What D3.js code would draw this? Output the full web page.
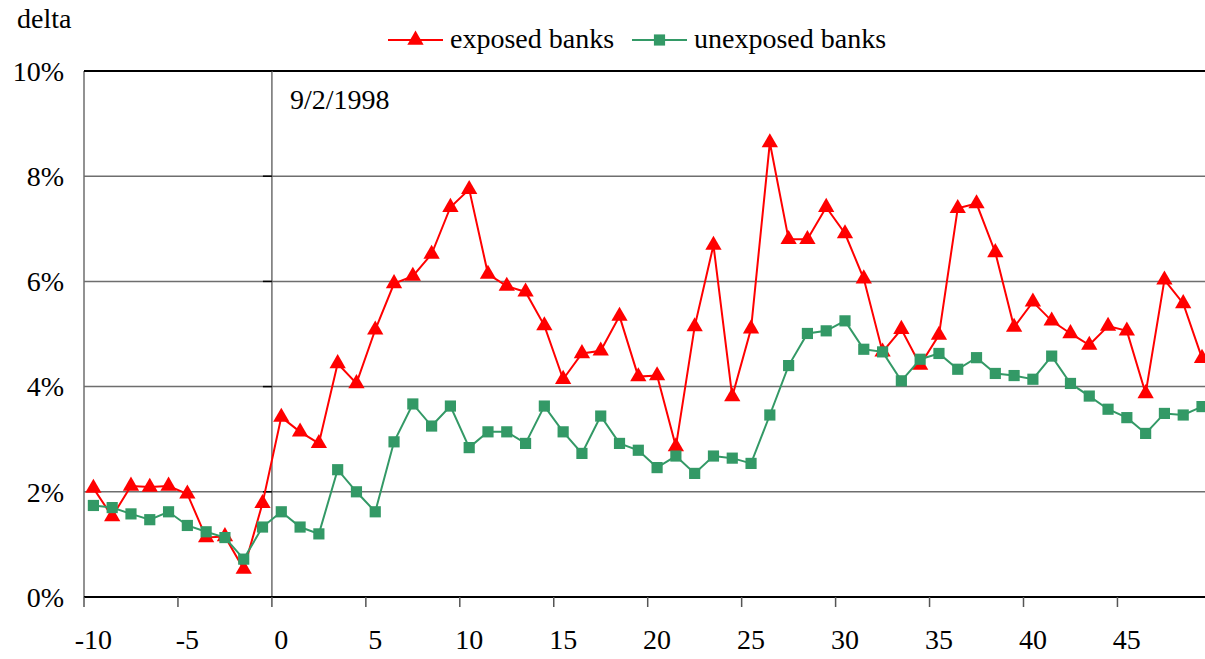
<!DOCTYPE html>
<html>
<head>
<meta charset="utf-8">
<script src="https://cdn.jsdelivr.net/npm/d3@7"></script>
<style>
  html, body { margin: 0; padding: 0; background: #fff; overflow: hidden; }
  svg { display: block; }
</style>
</head>
<body>
<div id="chart"></div>
<script>
/* global d3 */

// data
const days = [
  -10, -9, -8, -7, -6, -5, -4, -3, -2, -1,
  0, 1, 2, 3, 4, 5, 6, 7, 8, 9,
  10, 11, 12, 13, 14, 15, 16, 17, 18, 19,
  20, 21, 22, 23, 24, 25, 26, 27, 28, 29,
  30, 31, 32, 33, 34, 35, 36, 37, 38, 39,
  40, 41, 42, 43, 44, 45, 46, 47, 48, 49,
];
const exposed = [
  2.07, 1.53, 2.11, 2.09, 2.11, 1.96, 1.13, 1.15, 0.53, 1.78,
  3.42, 3.14, 2.92, 4.44, 4.06, 5.08, 5.96, 6.10, 6.52, 7.41,
  7.75, 6.14, 5.91, 5.80, 5.16, 4.14, 4.63, 4.68, 5.34, 4.19,
  4.21, 2.86, 5.14, 6.69, 3.81, 5.10, 8.64, 6.80, 6.80, 7.41,
  6.91, 6.05, 4.66, 5.09, 4.41, 4.98, 7.39, 7.48, 6.55, 5.13,
  5.61, 5.25, 5.01, 4.79, 5.15, 5.06, 3.87, 6.03, 5.58, 4.54,
];
const unexposed = [
  1.74, 1.70, 1.58, 1.47, 1.62, 1.36, 1.24, 1.13, 0.72, 1.33,
  1.62, 1.33, 1.20, 2.42, 2.00, 1.62, 2.95, 3.67, 3.25, 3.63,
  2.84, 3.14, 3.14, 2.92, 3.63, 3.14, 2.73, 3.44, 2.92, 2.79,
  2.46, 2.68, 2.35, 2.68, 2.64, 2.54, 3.46, 4.40, 5.01, 5.06,
  5.25, 4.71, 4.66, 4.11, 4.52, 4.63, 4.33, 4.55, 4.25, 4.21,
  4.14, 4.58, 4.06, 3.82, 3.57, 3.41, 3.11, 3.49, 3.46, 3.62,
];
const yTicks = [0, 2, 4, 6, 8, 10];
const xLabels = [-10, -5, 0, 5, 10, 15, 20, 25, 30, 35, 40, 45];
const eventDay = 0;
const eventLabel = '9/2/1998';

// dimensions
const WIDTH = 1205;
const HEIGHT = 659;
const MARGIN_LEFT = 84;
const MARGIN_TOP = 71;
const PLOT_BOTTOM = 597;
const BAND = 18.79;
const FONT = "'Liberation Serif', serif";
const FONT_SIZE = 28;

const RED = '#ff0000';
const GREEN = '#339966';

// scales
const scaleX = d3.scaleBand()
  .domain(days)
  .range([MARGIN_LEFT, MARGIN_LEFT + BAND * days.length])
  .padding(0);
const scaleY = d3.scaleLinear().domain([0, 10]).range([PLOT_BOTTOM, MARGIN_TOP]);
const cx = (d) => scaleX(d) + scaleX.bandwidth() / 2;

const $svg = d3.select('#chart').append('svg')
  .attr('width', WIDTH)
  .attr('height', HEIGHT);

// helper: serif label
function label($sel) {
  return $sel
    .style('font-family', FONT)
    .style('font-size', `${FONT_SIZE}px`)
    .attr('fill', '#000');
}

// gridlines
$svg.append('g').attr('class', 'g-grid')
  .selectAll('line')
  .data(yTicks.filter((d) => d > 0 && d < 10))
  .join('line')
  .attr('x1', MARGIN_LEFT)
  .attr('x2', WIDTH)
  .attr('y1', (d) => scaleY(d))
  .attr('y2', (d) => scaleY(d))
  .attr('stroke', '#6e6e6e')
  .attr('stroke-width', 1.5);

// plot frame: left border, top border
$svg.append('line')
  .attr('x1', MARGIN_LEFT).attr('x2', MARGIN_LEFT)
  .attr('y1', MARGIN_TOP).attr('y2', PLOT_BOTTOM)
  .attr('stroke', '#6e6e6e').attr('stroke-width', 1.5);
$svg.append('line')
  .attr('x1', MARGIN_LEFT).attr('x2', WIDTH)
  .attr('y1', MARGIN_TOP).attr('y2', MARGIN_TOP)
  .attr('stroke', '#000').attr('stroke-width', 2);

// value axis crossing at the event day, with ticks out to the left
const axisX0 = scaleX(eventDay);
$svg.append('line')
  .attr('x1', axisX0).attr('x2', axisX0)
  .attr('y1', MARGIN_TOP).attr('y2', PLOT_BOTTOM)
  .attr('stroke', '#6e6e6e').attr('stroke-width', 1.5);
$svg.append('g')
  .selectAll('line')
  .data(yTicks)
  .join('line')
  .attr('x1', axisX0 - 9).attr('x2', axisX0)
  .attr('y1', (d) => scaleY(d)).attr('y2', (d) => scaleY(d))
  .attr('stroke', '#000').attr('stroke-width', 1.5);

// y labels on the left
$svg.append('g').attr('class', 'g-ylabels')
  .selectAll('text')
  .data(yTicks)
  .join('text')
  .attr('x', 64)
  .attr('y', (d) => scaleY(d))
  .attr('dy', '0.35em')
  .attr('text-anchor', 'end')
  .call(label)
  .text((d) => `${d}%`);

// x axis
const xAxis = d3.axisBottom(scaleX)
  .tickValues(xLabels)
  .tickSize(10)
  .tickSizeOuter(0)
  .tickPadding(22);
const $xAxis = $svg.append('g')
  .attr('class', 'g-axis')
  .attr('transform', `translate(0, ${PLOT_BOTTOM})`)
  .call(xAxis);
$xAxis.select('.domain')
  .attr('d', `M${MARGIN_LEFT},0H${WIDTH}`)
  .attr('stroke', '#000')
  .attr('stroke-width', 2);
// tick marks sit on the category boundary, labels stay centred
$xAxis.selectAll('.tick line')
  .attr('x1', -scaleX.bandwidth() / 2)
  .attr('x2', -scaleX.bandwidth() / 2)
  .attr('stroke', '#555')
  .attr('stroke-width', 1.5);
$xAxis.selectAll('.tick text').call(label);

// event label
$svg.append('text')
  .attr('x', axisX0 + 18)
  .attr('y', 109)
  .call(label)
  .text(eventLabel);

// y title
$svg.append('text')
  .attr('x', 17)
  .attr('y', 28)
  .call(label)
  .text('delta');

// series
const series = [
  { name: 'exposed banks', values: exposed, color: RED, symbol: d3.symbolTriangle, size: 115 },
  { name: 'unexposed banks', values: unexposed, color: GREEN, symbol: d3.symbolSquare, size: 125 },
];

const line = d3.line()
  .x((d, i) => cx(days[i]))
  .y((d) => scaleY(d));

const $vis = $svg.append('g').attr('class', 'g-vis');
series.forEach((s) => {
  $vis.append('path')
    .datum(s.values)
    .attr('d', line)
    .attr('fill', 'none')
    .attr('stroke', s.color)
    .attr('stroke-width', 2);
  $vis.append('g')
    .selectAll('path')
    .data(s.values)
    .join('path')
    .attr('transform', (d, i) => `translate(${cx(days[i])}, ${scaleY(d)})`)
    .attr('d', d3.symbol().type(s.symbol).size(s.size))
    .attr('fill', s.color);
});

// legend
const legendItems = [
  { s: series[0], x: 388 },
  { s: series[1], x: 632 },
];
const $legend = $svg.append('g').attr('class', 'g-legend');
legendItems.forEach(({ s, x }) => {
  const y = 40;
  $legend.append('line')
    .attr('x1', x).attr('x2', x + 55)
    .attr('y1', y).attr('y2', y)
    .attr('stroke', s.color).attr('stroke-width', 2);
  $legend.append('path')
    .attr('transform', `translate(${x + 27.5}, ${y})`)
    .attr('d', d3.symbol().type(s.symbol).size(s.size))
    .attr('fill', s.color);
  $legend.append('text')
    .attr('x', x + 62)
    .attr('y', y)
    .attr('dy', '0.3em')
    .call(label)
    .text(s.name);
});
</script>
</body>
</html>
